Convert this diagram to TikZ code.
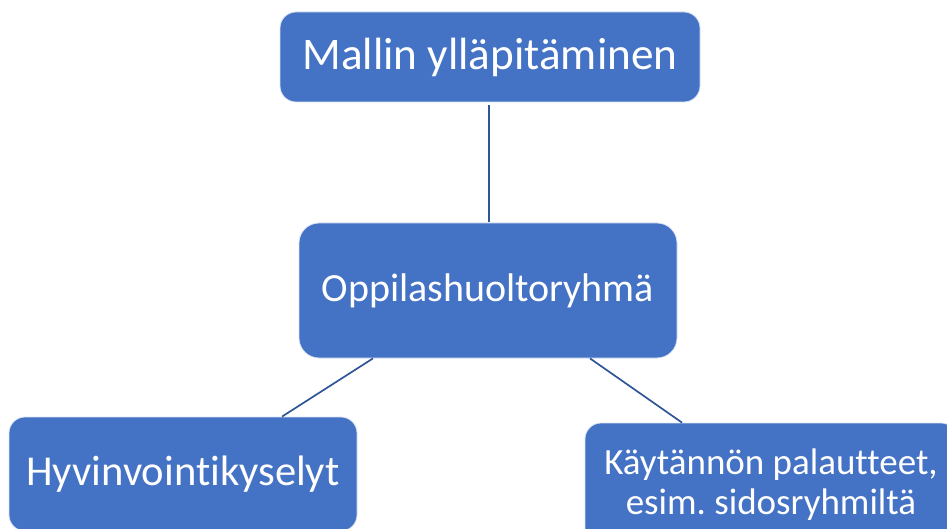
\documentclass[tikz,border=0pt]{standalone}
\usepackage{fontspec}
\setmainfont[Ligatures=NoCommon]{Carlito}
\frenchspacing
\definecolor{boxblue}{RGB}{68,114,196}
\definecolor{lineblue}{RGB}{47,85,151}
\begin{document}
\begin{tikzpicture}[x=1pt,y=1pt,
        Box/.style={rectangle,rounded corners=16pt,fill=boxblue,draw=white!80!boxblue,
            line width=0.8pt,text=white,align=center,inner sep=0pt},
        Link/.style={draw=lineblue,line width=1.7pt}]
    \clip (0,0) rectangle (947,-529);
    \useasboundingbox (0,0) rectangle (947,-529);
    \node[Box,minimum width=420pt,minimum height=90pt,font=\fontsize{45.2}{48}\selectfont] (malli) at (490,-57) {Mallin ylläpitäminen};
    \node[Box,minimum width=378pt,minimum height=135pt,rounded corners=20pt,font=\fontsize{40}{44}\selectfont] (ohr) at (488,-290.5) {Oppilashuoltoryhmä};
    \node[Box,minimum width=348pt,minimum height=114pt,font=\fontsize{42.6}{46}\selectfont] (kysely) at (183,-474) {Hyvinvointikyselyt};
    \node[Box,minimum width=372pt,minimum height=124pt,font=\fontsize{37}{40}\selectfont] (palaute) at (771,-485) {Käytännön palautteet,\\esim. sidosryhmiltä};
    \draw[Link,shorten <=3pt,shorten >=1pt] ([xshift=-1pt]malli.south) -- ([xshift=1pt]ohr.north);
    \draw[Link] ([xshift=-115pt]ohr.south) -- ([xshift=99pt]kysely.north);
    \draw[Link] ([xshift=102pt]ohr.south) -- ([xshift=-89pt]palaute.north);
\end{tikzpicture}
\end{document}
